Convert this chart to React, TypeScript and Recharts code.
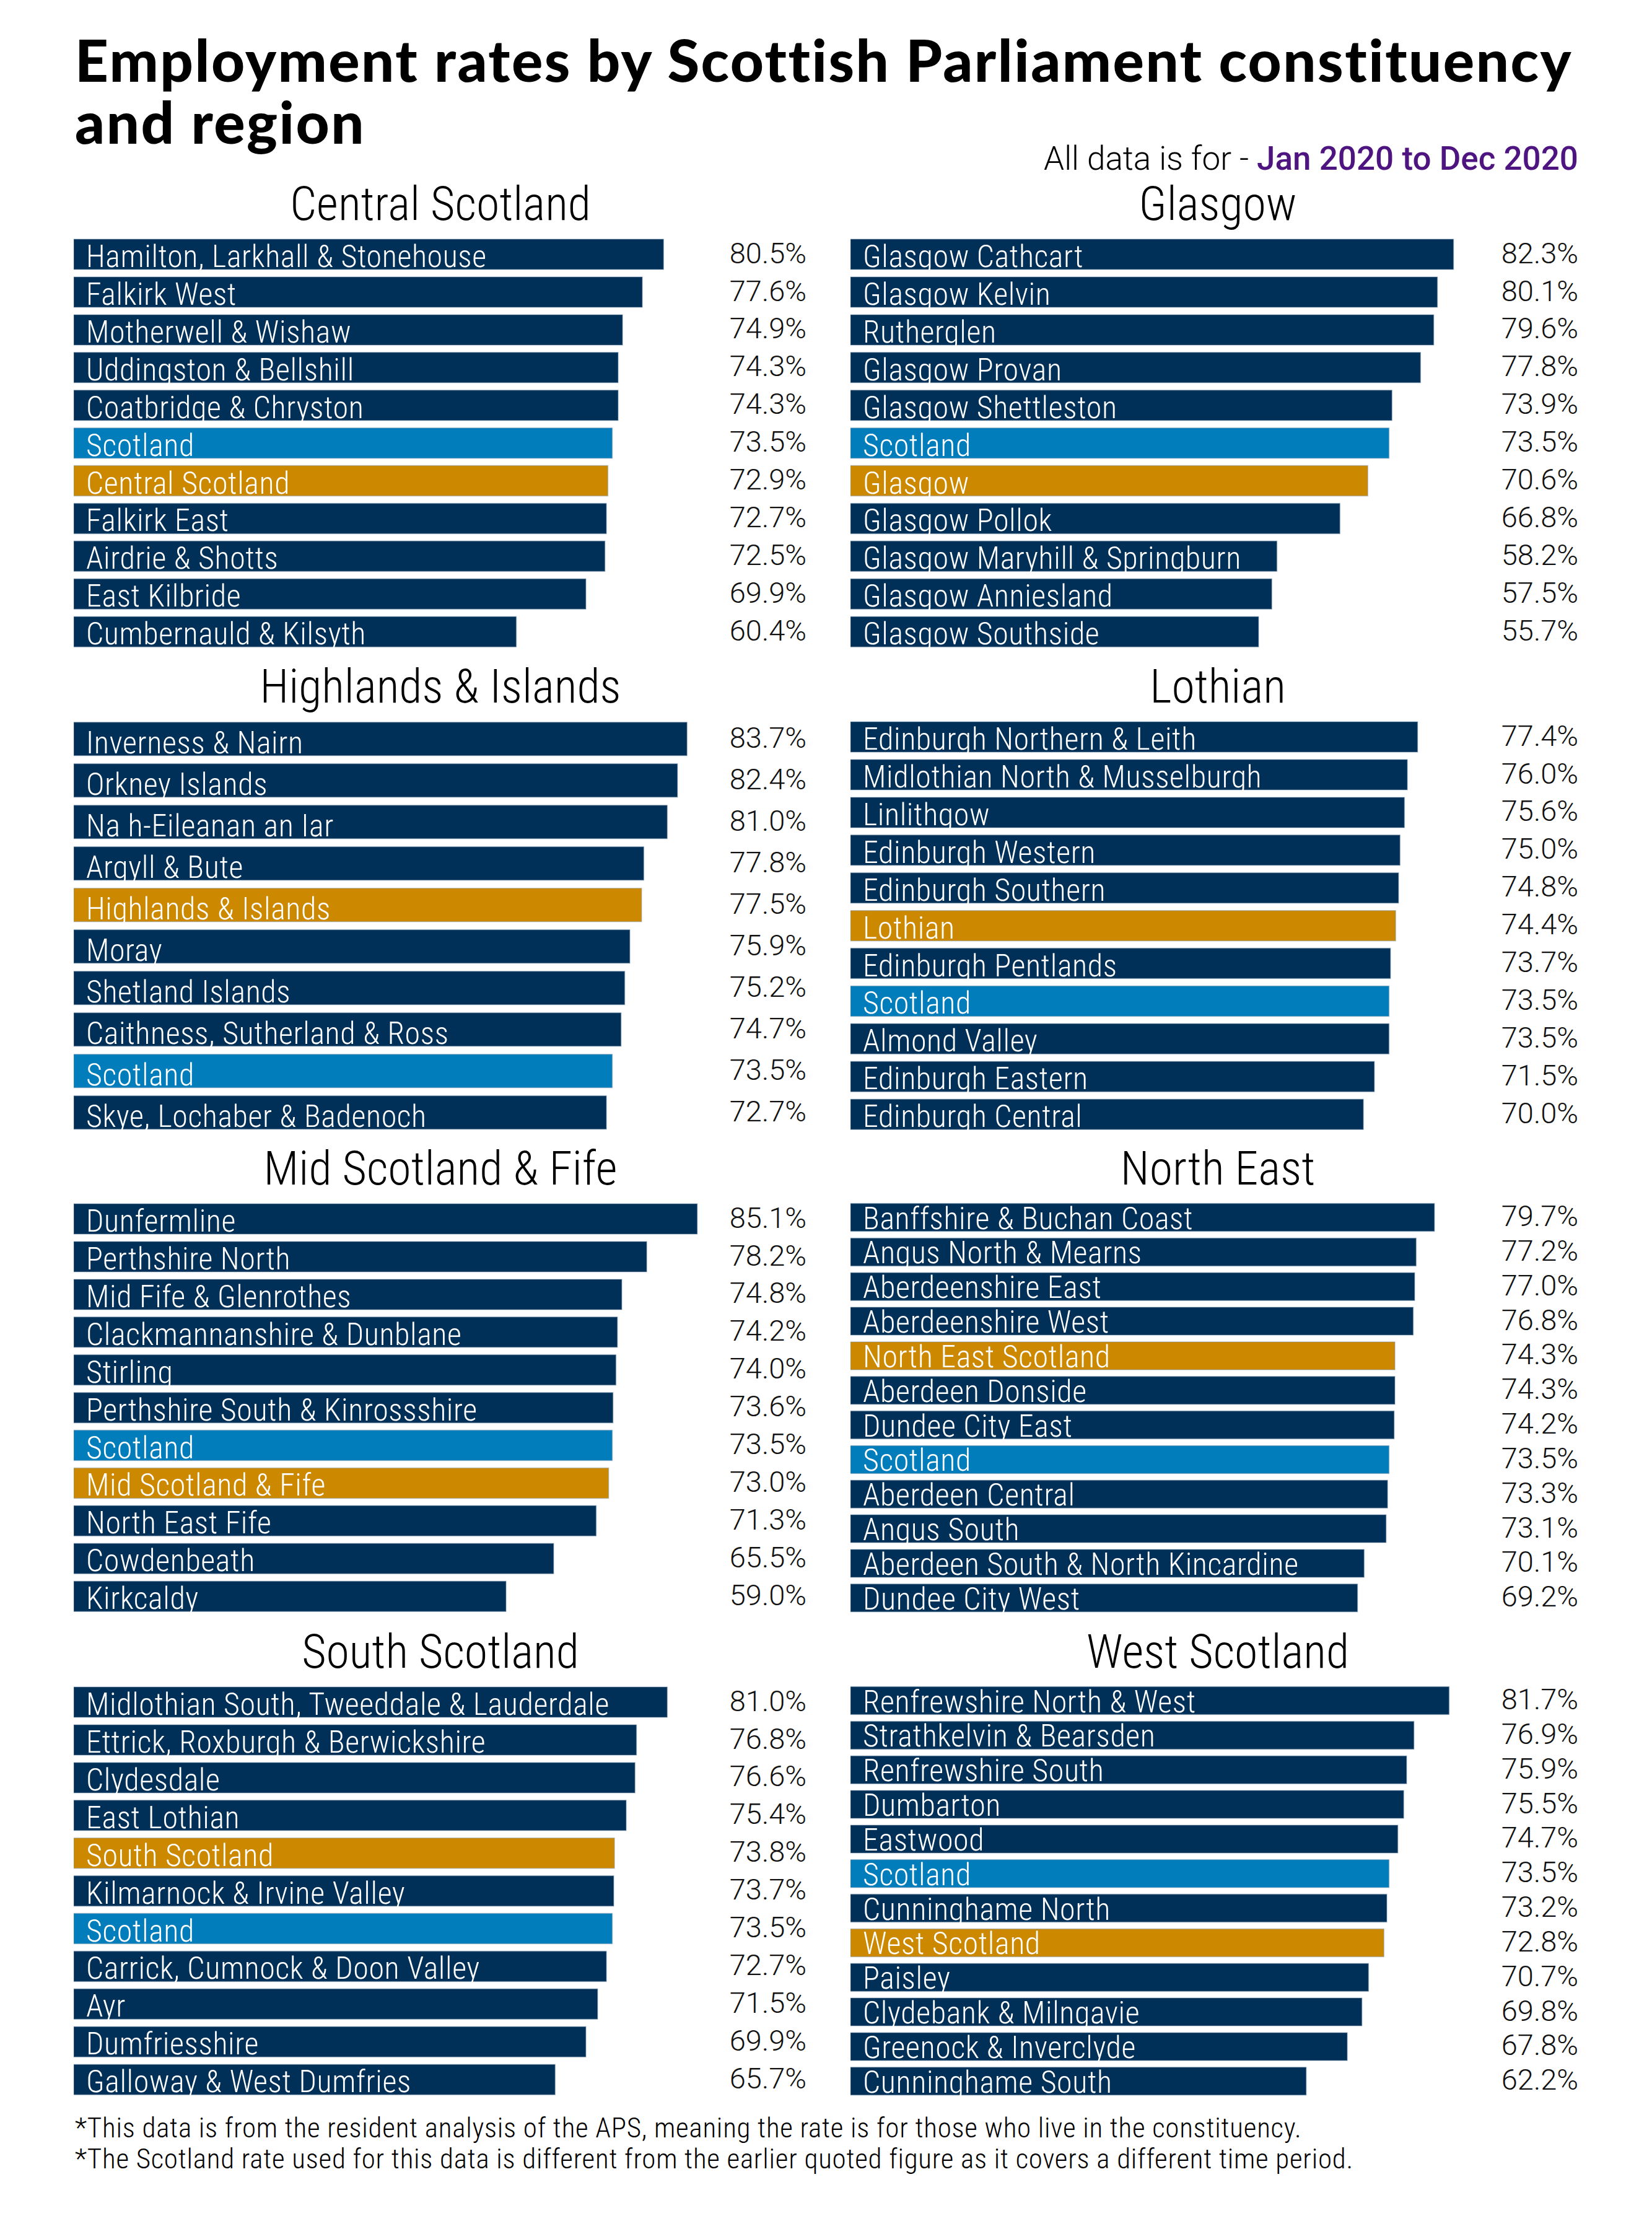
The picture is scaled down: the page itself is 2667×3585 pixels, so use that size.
import React from "react";
import { BarChart, Bar, XAxis, YAxis, Cell, LabelList } from "recharts";

// ─── Data (employment rate %, Jan 2020 to Dec 2020) ───
const CENTRAL_NAMES = [
  "Hamilton, Larkhall & Stonehouse",
  "Falkirk West",
  "Motherwell & Wishaw",
  "Uddingston & Bellshill",
  "Coatbridge & Chryston",
  "Scotland",
  "Central Scotland",
  "Falkirk East",
  "Airdrie & Shotts",
  "East Kilbride",
  "Cumbernauld & Kilsyth",
];
const CENTRAL_VALUES = [80.5, 77.6, 74.9, 74.3, 74.3, 73.5, 72.9, 72.7, 72.5, 69.9, 60.4];

const GLASGOW_NAMES = [
  "Glasgow Cathcart",
  "Glasgow Kelvin",
  "Rutherglen",
  "Glasgow Provan",
  "Glasgow Shettleston",
  "Scotland",
  "Glasgow",
  "Glasgow Pollok",
  "Glasgow Maryhill & Springburn",
  "Glasgow Anniesland",
  "Glasgow Southside",
];
const GLASGOW_VALUES = [82.3, 80.1, 79.6, 77.8, 73.9, 73.5, 70.6, 66.8, 58.2, 57.5, 55.7];

const HIGHLANDS_NAMES = [
  "Inverness & Nairn",
  "Orkney Islands",
  "Na h-Eileanan an Iar",
  "Argyll & Bute",
  "Highlands & Islands",
  "Moray",
  "Shetland Islands",
  "Caithness, Sutherland & Ross",
  "Scotland",
  "Skye, Lochaber & Badenoch",
];
const HIGHLANDS_VALUES = [83.7, 82.4, 81.0, 77.8, 77.5, 75.9, 75.2, 74.7, 73.5, 72.7];

const LOTHIAN_NAMES = [
  "Edinburgh Northern & Leith",
  "Midlothian North & Musselburgh",
  "Linlithgow",
  "Edinburgh Western",
  "Edinburgh Southern",
  "Lothian",
  "Edinburgh Pentlands",
  "Scotland",
  "Almond Valley",
  "Edinburgh Eastern",
  "Edinburgh Central",
];
const LOTHIAN_VALUES = [77.4, 76.0, 75.6, 75.0, 74.8, 74.4, 73.7, 73.5, 73.5, 71.5, 70.0];

const MID_NAMES = [
  "Dunfermline",
  "Perthshire North",
  "Mid Fife & Glenrothes",
  "Clackmannanshire & Dunblane",
  "Stirling",
  "Perthshire South & Kinrossshire",
  "Scotland",
  "Mid Scotland & Fife",
  "North East Fife",
  "Cowdenbeath",
  "Kirkcaldy",
];
const MID_VALUES = [85.1, 78.2, 74.8, 74.2, 74.0, 73.6, 73.5, 73.0, 71.3, 65.5, 59.0];

const NORTH_EAST_NAMES = [
  "Banffshire & Buchan Coast",
  "Angus North & Mearns",
  "Aberdeenshire East",
  "Aberdeenshire West",
  "North East Scotland",
  "Aberdeen Donside",
  "Dundee City East",
  "Scotland",
  "Aberdeen Central",
  "Angus South",
  "Aberdeen South & North Kincardine",
  "Dundee City West",
];
const NORTH_EAST_VALUES = [79.7, 77.2, 77.0, 76.8, 74.3, 74.3, 74.2, 73.5, 73.3, 73.1, 70.1, 69.2];

const SOUTH_NAMES = [
  "Midlothian South, Tweeddale & Lauderdale",
  "Ettrick, Roxburgh & Berwickshire",
  "Clydesdale",
  "East Lothian",
  "South Scotland",
  "Kilmarnock & Irvine Valley",
  "Scotland",
  "Carrick, Cumnock & Doon Valley",
  "Ayr",
  "Dumfriesshire",
  "Galloway & West Dumfries",
];
const SOUTH_VALUES = [81.0, 76.8, 76.6, 75.4, 73.8, 73.7, 73.5, 72.7, 71.5, 69.9, 65.7];

const WEST_NAMES = [
  "Renfrewshire North & West",
  "Strathkelvin & Bearsden",
  "Renfrewshire South",
  "Dumbarton",
  "Eastwood",
  "Scotland",
  "Cunninghame North",
  "West Scotland",
  "Paisley",
  "Clydebank & Milngavie",
  "Greenock & Inverclyde",
  "Cunninghame South",
];
const WEST_VALUES = [81.7, 76.9, 75.9, 75.5, 74.7, 73.5, 73.2, 72.8, 70.7, 69.8, 67.8, 62.2];

// ─── Colours / fonts ───
const NAVY = "#003057";
const BLUE = "#027DBB";
const GOLD = "#CC8900";
const FONT = "Roboto, 'Open Sans', sans-serif";

// ─── Layout ───
const COL_X = [119, 1373];
const VALUE_OFFSET = [1183, 1175];
const TITLE_CX = [711, 1966];
const ROW_Y = [380, 1159, 1937, 2717];
const CHART_W = 1230;
const PLOT_W = 1183;
const PLOT_H = 670;
const PAD_B = 24; // room below the last bar for descenders
const CHART_H = PLOT_H + PAD_B;

interface Panel {
  title: string;
  region: string;
  names: string[];
  values: number[];
  col: number;
  row: number;
}

const PANELS: Panel[] = [
  { title: "Central Scotland", region: "Central Scotland", names: CENTRAL_NAMES, values: CENTRAL_VALUES, col: 0, row: 0 },
  { title: "Glasgow", region: "Glasgow", names: GLASGOW_NAMES, values: GLASGOW_VALUES, col: 1, row: 0 },
  { title: "Highlands & Islands", region: "Highlands & Islands", names: HIGHLANDS_NAMES, values: HIGHLANDS_VALUES, col: 0, row: 1 },
  { title: "Lothian", region: "Lothian", names: LOTHIAN_NAMES, values: LOTHIAN_VALUES, col: 1, row: 1 },
  { title: "Mid Scotland & Fife", region: "Mid Scotland & Fife", names: MID_NAMES, values: MID_VALUES, col: 0, row: 2 },
  { title: "North East", region: "North East Scotland", names: NORTH_EAST_NAMES, values: NORTH_EAST_VALUES, col: 1, row: 2 },
  { title: "South Scotland", region: "South Scotland", names: SOUTH_NAMES, values: SOUTH_VALUES, col: 0, row: 3 },
  { title: "West Scotland", region: "West Scotland", names: WEST_NAMES, values: WEST_VALUES, col: 1, row: 3 },
];

const nameStyle: React.CSSProperties = {
  fontFamily: FONT,
  fontStretch: "condensed",
  fontWeight: 300,
  letterSpacing: 0.6,
};

const valueStyle: React.CSSProperties = {
  fontFamily: FONT,
  fontWeight: 300,
};

function barColor(name: string, region: string) {
  if (name === "Scotland") return BLUE;
  if (name === region) return GOLD;
  return NAVY;
}

function box(props: any) {
  const vb = props.viewBox ?? {};
  return {
    x: Number(props.x ?? vb.x),
    y: Number(props.y ?? vb.y),
    width: Number(props.width ?? vb.width),
    height: Number(props.height ?? vb.height),
  };
}

// ─── One region panel ───
function RegionChart({ panel }: { panel: Panel }) {
  const data = panel.names.map((name, i) => ({ name, value: panel.values[i] }));
  const valueOffset = VALUE_OFFSET[panel.col];

  return (
    <div
      style={{
        position: "absolute",
        left: COL_X[panel.col],
        top: ROW_Y[panel.row],
        width: CHART_W,
        height: CHART_H,
      }}
    >
      <BarChart
        width={CHART_W}
        height={CHART_H}
        data={data}
        layout="vertical"
        barCategoryGap="10%"
        margin={{ top: 0, right: CHART_W - PLOT_W, bottom: PAD_B, left: 0 }}
      >
        <XAxis type="number" domain={[0, 100]} hide />
        <YAxis type="category" dataKey="name" hide />
        <Bar dataKey="value" isAnimationActive={false} stroke="#7d95b0" strokeOpacity={0.45} strokeWidth={1.5}>
          {data.map((d) => (
            <Cell key={d.name} fill={barColor(d.name, panel.region)} />
          ))}
          <LabelList
            dataKey="name"
            content={(props: any) => {
              const b = box(props);
              return (
                <text x={b.x + 20} y={b.y + b.height - 4} fill="#ffffff" fontSize={50} style={nameStyle}>
                  {props.value}
                </text>
              );
            }}
          />
          <LabelList
            dataKey="value"
            content={(props: any) => {
              const b = box(props);
              return (
                <text
                  x={b.x + valueOffset}
                  y={b.y + b.height / 2 + 14}
                  textAnchor="end"
                  fill="#111111"
                  fontSize={47}
                  style={valueStyle}
                >
                  {Number(props.value).toFixed(1)}%
                </text>
              );
            }}
          />
        </Bar>
      </BarChart>
    </div>
  );
}

export default function App() {
  return (
    <div style={{ position: "relative", width: 2667, height: 3585, background: "#ffffff", overflow: "hidden" }}>
      <style>{`body { margin: 0; }`}</style>

      {/* Main title */}
      <div
        style={{
          position: "absolute",
          left: 121,
          top: 46,
          fontFamily: "Lato, sans-serif",
          fontWeight: 900,
          fontSize: 94,
          lineHeight: "100px",
          letterSpacing: 2.5,
          color: "#000",
          whiteSpace: "nowrap",
        }}
      >
        Employment rates by Scottish Parliament constituency
        <br />
        and region
      </div>

      {/* Period note */}
      <div
        style={{
          position: "absolute",
          right: 2667 - 2548,
          top: 223,
          fontFamily: FONT,
          fontWeight: 300,
          fontSize: 53,
          lineHeight: "66px",
          color: "#000",
          whiteSpace: "nowrap",
        }}
      >
        All data is for -{" "}
        <span style={{ color: "#4E1480", fontWeight: 500 }}>Jan 2020 to Dec 2020</span>
      </div>

      {/* Panel titles */}
      {PANELS.map((p) => (
        <div
          key={p.title + "-title"}
          style={{
            position: "absolute",
            left: TITLE_CX[p.col] - 500,
            width: 1000,
            top: ROW_Y[p.row] - 101,
            textAlign: "center",
            fontFamily: FONT,
            fontStretch: "condensed",
            fontWeight: 300,
            fontSize: 76,
            lineHeight: "100px",
            color: "#000",
          }}
        >
          {p.title}
        </div>
      ))}

      {PANELS.map((p) => (
        <RegionChart key={p.title} panel={p} />
      ))}

      {/* Footnotes */}
      <div
        style={{
          position: "absolute",
          left: 121,
          top: 3410,
          fontFamily: FONT,
          fontStretch: "semi-condensed",
          fontWeight: 300,
          fontSize: 45,
          lineHeight: "50px",
          letterSpacing: 0.75,
          color: "#000",
          whiteSpace: "nowrap",
        }}
      >
        *This data is from the resident analysis of the APS, meaning the rate is for those who live in the constituency.
        <br />
        *The Scotland rate used for this data is different from the earlier quoted figure as it covers a different time period.
      </div>
    </div>
  );
}
